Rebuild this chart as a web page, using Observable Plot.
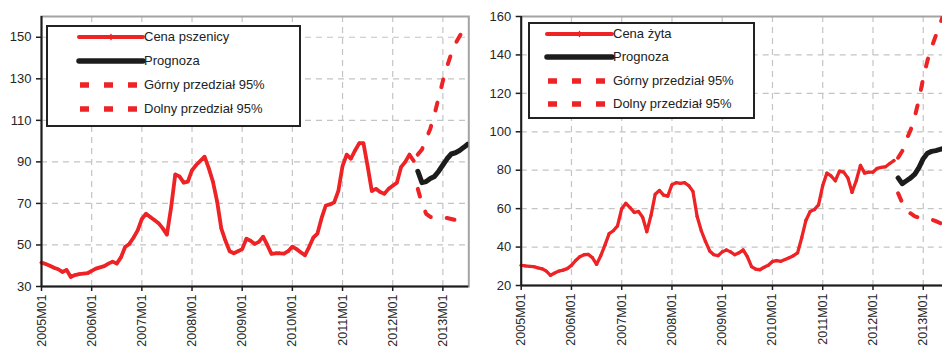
<!DOCTYPE html>
<html>
<head>
<meta charset="utf-8">
<script src="https://cdn.jsdelivr.net/npm/d3@7"></script>
<script src="https://cdn.jsdelivr.net/npm/@observablehq/plot@0.6"></script>
<style>
  body { margin: 0; background: #fff; }
  #wrap { position: relative; width: 942px; height: 348px; overflow: hidden;
          font-family: "Liberation Sans", Arial, sans-serif; color: #222; }
  .panel { position: absolute; top: 0; }
  .legend { position: absolute; border: 2px solid #222; background: #fff; box-sizing: border-box; }
  .legend .key { position: absolute; }
  .legend .lab { position: absolute; font-size: 13px; line-height: 16px; color: #222; white-space: nowrap; }
</style>
</head>
<body>
<div id="wrap"></div>
<script>
// Monthly prices from 2005M01, forecast with 95% bounds from 2012M07
const wheatPrice = [
  41.5, 40.8, 40.0, 39.0, 38.3, 37.0, 38.0, 34.6, 35.5, 36.0, 36.2, 36.4,
  37.5, 38.6, 39.2, 39.8, 41.0, 42.0, 41.0, 44.0, 49.0, 50.5, 53.5, 57.0,
  62.5, 65.0, 63.5, 62.0, 60.5, 58.0, 55.0, 68.0, 84.0, 83.0, 80.0, 80.5,
  86.0, 88.5, 90.5, 92.5, 87.0, 80.5, 71.0, 58.0, 52.0, 47.0, 46.0, 47.0,
  48.0, 53.0, 52.0, 50.5, 51.5, 54.0, 50.0, 45.7, 46.0, 46.0, 45.8, 47.0,
  49.2, 48.0, 46.5, 45.0, 49.0, 53.5, 55.5, 63.0, 69.0, 69.5, 70.5, 76.0,
  88.0, 93.5, 91.5, 95.5, 99.0, 99.0, 88.0, 76.0, 77.0, 75.5, 74.6, 77.0,
  78.5, 80.0, 87.5, 90.0, 93.5, 90.5
];
const wheatForecast = [85.5, 80.0, 80.5, 82.0, 83.0, 85.5, 88.5, 91.5, 93.8, 94.4, 95.5, 97.0, 98.6];
const wheatUpper = [93.5, 96.0, 101.0, 106.0, 113.0, 121.0, 129.0, 136.0, 142.0, 147.0, 150.5, 154.0, 157.0];
const wheatLower = [77.0, 70.0, 65.0, 63.5, 63.0, 63.0, 63.0, 63.0, 62.5, 62.0, 61.5, 61.0, 60.5];

const ryePrice = [
  30.5, 30.2, 30.0, 29.8, 29.2, 28.7, 27.5, 25.3, 26.5, 27.5, 28.0, 28.8,
  30.5, 33.0, 35.0, 36.0, 36.2, 34.5, 31.0, 35.5, 41.0, 47.0, 48.5, 51.0,
  60.0, 62.8, 60.5, 58.0, 58.6, 55.5, 48.0, 56.5, 67.5, 69.5, 67.0, 66.5,
  72.5, 73.5, 73.2, 73.5, 72.0, 69.0, 56.0, 48.5, 43.0, 38.0, 36.0, 35.5,
  37.5, 38.5, 37.5, 36.0, 37.0, 38.5, 35.0, 29.8, 28.5, 28.2, 29.5, 30.5,
  32.5, 33.0, 32.6, 33.5, 34.5, 35.5, 37.0, 45.0, 54.0, 58.5, 59.5, 62.0,
  72.0, 78.5, 77.0, 74.5, 79.5, 79.0, 76.0, 68.5, 74.5, 82.5, 78.5, 79.0,
  79.0, 81.0, 81.5, 81.8, 83.5, 85.0
];
const ryeForecast = [76.0, 73.0, 74.5, 76.0, 78.0, 81.5, 86.0, 88.8, 89.8, 90.2, 90.8, 91.5, 92.3];
const ryeUpper = [86.5, 90.0, 96.0, 101.0, 108.0, 117.0, 128.0, 137.0, 144.0, 150.0, 156.0, 162.0, 167.0];
const ryeLower = [68.0, 63.0, 59.0, 57.5, 56.0, 55.3, 55.0, 54.7, 54.3, 53.5, 52.5, 51.7, 51.0];

const forecastStart = 90; // month index of 2012M07
const xTickLabels = ["2005M01", "2006M01", "2007M01", "2008M01", "2009M01",
                     "2010M01", "2011M01", "2012M01", "2013M01"];
const xTickMonths = xTickLabels.map((_, i) => i * 12);
const wheatTicks = [30, 50, 70, 90, 110, 130, 150];
const ryeTicks = [20, 40, 60, 80, 100, 120, 140, 160];

const RED = "#ee2326";
const BLACK = "#1c1c1c";
const xEnd = 102.2;

function series(values, start) {
  return values.map((v, i) => ({m: start + i, v}));
}

function panel({price, forecast, upper, lower, yDomain, yTicks, width, marginLeft, marginRight, marginBottom, lineWidth}) {
  const hist = series(price, 0);
  const fc = series(forecast, forecastStart);
  const up = series(upper, forecastStart);
  const lo = series(lower, forecastStart);
  const grid = {stroke: "#c4c4c4", strokeOpacity: 1, strokeWidth: 1.2, strokeDasharray: "6,5"};
  const dashed = {x: "m", y: "v", stroke: RED, strokeWidth: 4, strokeDasharray: "8,16", clip: true};
  return Plot.plot({
    width, height: 348,
    marginTop: 16, marginLeft, marginRight, marginBottom,
    x: {domain: [0, xEnd], axis: null},
    y: {domain: yDomain, axis: null},
    style: {fontFamily: '"Liberation Sans", Arial, sans-serif', fontSize: "13px", color: "#262626", background: "transparent", overflow: "visible"},
    marks: [
      Plot.gridX(xTickMonths.slice(1), grid),
      Plot.gridY(yTicks.slice(1), grid),
      Plot.frame({stroke: "#a3a3a3", strokeWidth: 2}),
      Plot.lineY(hist, {x: "m", y: "v", stroke: RED, strokeWidth: lineWidth, strokeLinejoin: "round"}),
      Plot.dot(hist, {x: "m", y: "v", r: 1.6, fill: RED}),
      Plot.lineY(up, dashed),
      Plot.lineY(lo, dashed),
      Plot.lineY(fc, {x: "m", y: "v", stroke: BLACK, strokeWidth: 5, strokeLinecap: "round", strokeLinejoin: "round", clip: true}),
      Plot.ruleX([0], {stroke: BLACK, strokeWidth: 2}),
      Plot.ruleY([yDomain[0]], {stroke: BLACK, strokeWidth: 2}),
      Plot.axisY({ticks: yTicks, label: null, tickSize: 5, tickPadding: 5, stroke: BLACK, strokeWidth: 1.5}),
      Plot.axisX({ticks: xTickMonths, label: null, tickFormat: d => xTickLabels[xTickMonths.indexOf(d)],
                  tickRotate: -90, tickSize: 5, tickPadding: 3, fontSize: 12.5, stroke: BLACK, strokeWidth: 1.5})
    ]
  });
}

function legend({left, top, width, height, rows, keyX0, keyX1, textX, title}) {
  const box = document.createElement("div");
  box.className = "legend";
  Object.assign(box.style, {left: left + "px", top: top + "px", width: width + "px", height: height + "px"});
  const names = [title, "Prognoza", "Górny przedział 95%", "Dolny przedział 95%"];
  const ns = "http://www.w3.org/2000/svg";
  names.forEach((name, i) => {
    const cy = rows[i] - 2;
    const svg = document.createElementNS(ns, "svg");
    svg.setAttribute("class", "key");
    svg.setAttribute("width", keyX1 - keyX0 + 8);
    svg.setAttribute("height", 12);
    svg.style.left = (keyX0 - 4 - 2) + "px";
    svg.style.top = (cy - 6) + "px";
    const ln = document.createElementNS(ns, "line");
    ln.setAttribute("x1", 4); ln.setAttribute("x2", keyX1 - keyX0 + 4);
    ln.setAttribute("y1", 6); ln.setAttribute("y2", 6);
    if (i === 0) {
      ln.setAttribute("stroke", RED); ln.setAttribute("stroke-width", 4); ln.setAttribute("stroke-linecap", "round");
    } else if (i === 1) {
      ln.setAttribute("stroke", BLACK); ln.setAttribute("stroke-width", 5.5); ln.setAttribute("stroke-linecap", "round");
    } else {
      ln.setAttribute("x1", 5);
      ln.setAttribute("stroke", RED); ln.setAttribute("stroke-width", 5.5); ln.setAttribute("stroke-dasharray", "9,15");
    }
    svg.appendChild(ln);
    if (i === 0) {
      const mk = document.createElementNS(ns, "path");
      const c = (keyX1 - keyX0) / 2 + 4;
      mk.setAttribute("d", `M${c},2.5L${c + 2.5},6L${c},9.5L${c - 2.5},6Z`);
      mk.setAttribute("fill", RED);
      svg.appendChild(mk);
    }
    box.appendChild(svg);
    const lab = document.createElement("div");
    lab.className = "lab";
    lab.textContent = name;
    lab.style.left = (textX - 2) + "px";
    lab.style.top = (cy - 8) + "px";
    box.appendChild(lab);
  });
  return box;
}

const wrap = document.getElementById("wrap");

const left = panel({
  price: wheatPrice, forecast: wheatForecast, upper: wheatUpper, lower: wheatLower,
  yDomain: [30, 160], yTicks: wheatTicks, lineWidth: 3.8,
  width: 475, marginLeft: 41, marginRight: 6.7, marginBottom: 62
});
left.classList.add("panel");
left.style.left = "0px";
wrap.appendChild(left);

const right = panel({
  price: ryePrice, forecast: ryeForecast, upper: ryeUpper, lower: ryeLower,
  yDomain: [20, 160], yTicks: ryeTicks, lineWidth: 3.3,
  width: 482, marginLeft: 50.7, marginRight: 3.3, marginBottom: 63
});
right.classList.add("panel");
right.style.left = "470px";
wrap.appendChild(right);

wrap.appendChild(legend({left: 46, top: 25, width: 255, height: 102, rows: [12, 36, 60, 84],
                         keyX0: 33, keyX1: 97, textX: 98, title: "Cena pszenicy"}));
wrap.appendChild(legend({left: 528, top: 22, width: 227, height: 97, rows: [12, 35, 59, 82],
                         keyX0: 19, keyX1: 84, textX: 85, title: "Cena żyta"}));
</script>
</body>
</html>
